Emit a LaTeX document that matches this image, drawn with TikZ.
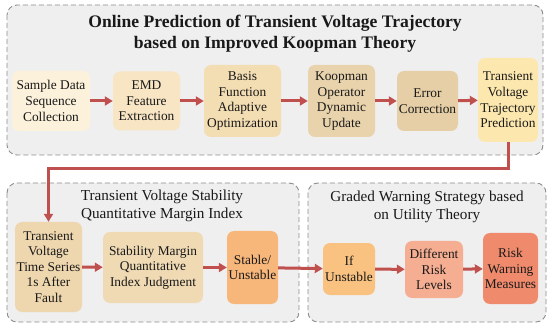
\documentclass[tikz,border=0pt]{standalone}
\usepackage{fontspec}
\setmainfont{Liberation Serif}
\usetikzlibrary{arrows.meta}
\definecolor{arrowred}{HTML}{C0504D}
\definecolor{grpfill}{HTML}{EFEFEF}
\definecolor{grpline}{HTML}{8C8C8C}
\definecolor{cream}{HTML}{FCF1DA}
\definecolor{sand}{HTML}{F7E5C4}
\definecolor{wheat}{HTML}{F3DDB3}
\definecolor{tan}{HTML}{E9D3AC}
\definecolor{tandark}{HTML}{E6CFA6}
\definecolor{lightyellow}{HTML}{FCE8AE}
\definecolor{beige}{HTML}{EED7AE}
\definecolor{beigelight}{HTML}{EFDAB4}
\definecolor{orange}{HTML}{F7B67A}
\definecolor{orangelight}{HTML}{F9C281}
\definecolor{salmon}{HTML}{F6AE92}
\definecolor{coral}{HTML}{EF8A6C}

\begin{document}
\begin{tikzpicture}[x=1pt,y=-1pt,
  blk/.style={rounded corners=7pt, align=center, inner sep=1pt,
    font=\fontsize{13.4}{15.6}\selectfont, text=black!90},
  grp/.style={draw=grpline, line width=0.9pt, dash pattern=on 5pt off 3pt,
    fill=grpfill, rounded corners=10pt},
  grptitle/.style={align=center, font=\fontsize{15.2}{17.5}\selectfont, text=black!90},
  arr/.style={draw=arrowred, line width=3pt, -{Triangle[length=8pt,width=9pt]}}]
 \useasboundingbox (0,0) rectangle (550,329);
 % groups
 \draw[grp] (7,5) rectangle (543,155);
 \draw[grp] (7,183) rectangle (299,322);
 \draw[grp] (308,183) rectangle (546,322);
 \node[align=center, font=\bfseries\fontsize{17.6}{21}\selectfont, text=black!90] (toptitle) at (275,34)
   {Online Prediction of Transient Voltage Trajectory\\based on Improved Koopman Theory};
 \node[grptitle] (lefttitle) at (162,206) {Transient Voltage Stability\\Quantitative Margin Index};
 \node[grptitle] (righttitle) at (427,207) {Graded Warning Strategy based\\on Utility Theory};
 % top row
 \node[blk, fill=cream, minimum width=78, minimum height=60] (p1) at (51,101)
   {Sample Data\\Sequence\\Collection};
 \node[blk, fill=sand, minimum width=67, minimum height=59] (p2) at (146.5,101)
   {EMD\\Feature\\Extraction};
 \node[blk, fill=wheat, minimum width=77, minimum height=72] (p3) at (242.5,101)
   {Basis\\Function\\Adaptive\\Optimization};
 \node[blk, fill=tan, minimum width=67, minimum height=72] (p4) at (341.5,101)
   {Koopman\\Operator\\Dynamic\\Update};
 \node[blk, fill=tandark, minimum width=61, minimum height=60] (p5) at (427.5,101)
   {Error\\Correction};
 \node[blk, fill=lightyellow, minimum width=60, minimum height=84] (p6) at (508,100)
   {Transient\\Voltage\\Trajectory\\Prediction};
 % bottom row
 \node[blk, fill=beige, minimum width=67, minimum height=90] (s1) at (48.5,267)
   {Transient\\Voltage\\Time Series\\1s After\\Fault};
 \node[blk, fill=beigelight, minimum width=100, minimum height=71] (s2) at (153,267.5)
   {Stability Margin\\Quantitative\\Index Judgment};
 \node[blk, fill=orange, minimum width=51, minimum height=73] (s3) at (252.5,267.5)
   {Stable/\\Unstable};
 \node[blk, fill=orangelight, minimum width=52, minimum height=52] (w1) at (349,269)
   {If\\Unstable};
 \node[blk, fill=salmon, minimum width=58, minimum height=57] (w2) at (434,269.5)
   {Different\\Risk\\Levels};
 \node[blk, fill=coral, minimum width=55, minimum height=71] (w3) at (510.5,268.5)
   {Risk\\Warning\\Measures};
 % connectors
 \foreach \a/\b in {p1/p2,p2/p3,p3/p4,p4/p5,p5/p6,s1/s2,s2/s3,s3/w1,w1/w2,w2/w3}
   \draw[arr] (\a) -- (\b);
 \coordinate (turn) at (508,169);
 \draw[arr] (p6.south) -- (turn) -| (s1.north);
\end{tikzpicture}
\end{document}
